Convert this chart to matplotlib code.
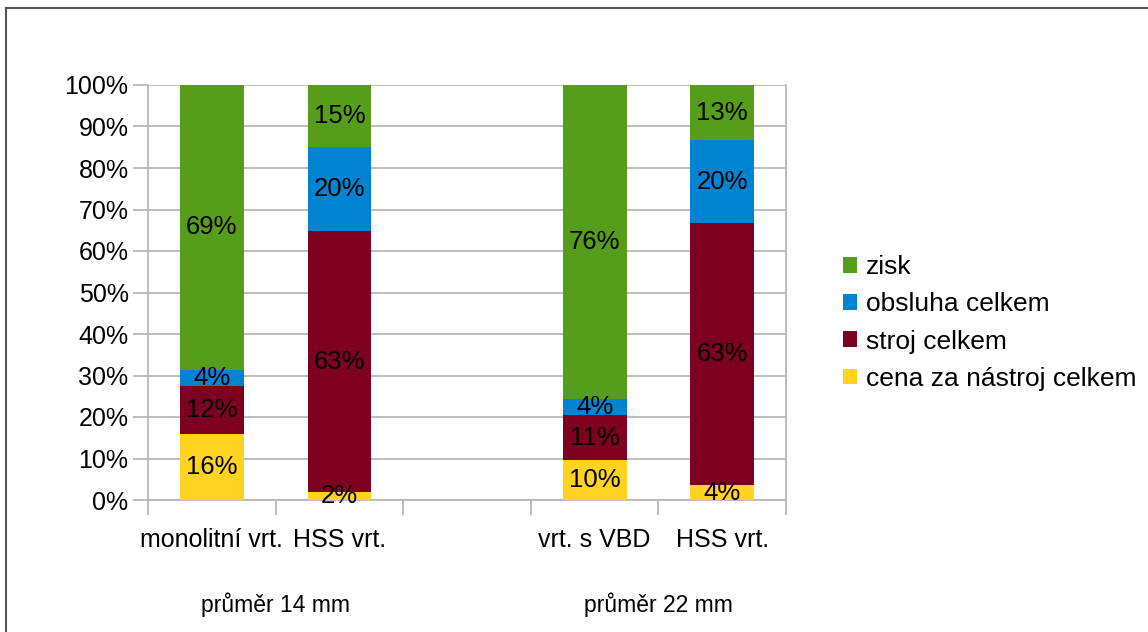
import matplotlib
matplotlib.use("Agg")
import matplotlib.pyplot as plt
import matplotlib.transforms as mtransforms
from matplotlib.lines import Line2D
from matplotlib.patches import Patch
import numpy as np

plt.rcParams["font.family"] = ["Liberation Sans", "DejaVu Sans"]

# cost shares per drill, in percent (empty slot separates the two diameters)
categories = ["monolitní vrt.", "HSS vrt.", "", "vrt. s VBD", "HSS vrt."]
tool_cost = [15.8, 1.9, 0, 9.6, 3.6]
machine_cost = [11.7, 62.9, 0, 10.9, 63.1]
operator_cost = [3.9, 20.3, 0, 3.8, 20.0]
profit = [68.6, 14.9, 0, 75.7, 13.3]

series_names = ["cena za nástroj celkem", "stroj celkem", "obsluha celkem", "zisk"]
series_colors = ["#FFD320", "#7E0021", "#0084D1", "#579D1C"]
group_labels = ["průměr 14 mm", "průměr 22 mm"]

fig = plt.figure(figsize=(11.48, 6.32), dpi=100)
ax = fig.add_axes([148 / 1148, 132 / 632, 638 / 1148, 415 / 632])

x = np.arange(len(categories))
bottom = np.zeros(len(categories))
for vals, name, color in zip([tool_cost, machine_cost, operator_cost, profit],
                             series_names, series_colors):
    vals = np.array(vals, dtype=float)
    ax.bar(x, vals, 0.5, bottom=bottom, color=color, label=name, zorder=3)
    for xi, v, b in zip(x, vals, bottom):
        if v > 0:
            ax.text(xi, b + v / 2, f"{v:.0f}%", ha="center", va="center",
                    fontsize=18.5, color="black", zorder=4)
    bottom += vals

ax.set_xlim(-0.5, len(categories) - 0.5)
ax.set_ylim(0, 100)

grid_color = "#B3B3B3"
ax.set_yticks(np.arange(0, 101, 10))
ax.set_yticklabels([f"{t}%" for t in range(0, 101, 10)], fontsize=18)
ax.yaxis.grid(True, color=grid_color, linewidth=1.2, zorder=0)
ax.tick_params(axis="y", length=11, color=grid_color, width=1.2, pad=3)

ax.set_xticks(np.arange(-0.5, len(categories)), minor=False)
ax.set_xticklabels([])
ax.set_xticks(x, minor=True)
ax.set_xticklabels(categories, minor=True, fontsize=18)
ax.tick_params(axis="x", which="major", length=11, color=grid_color, width=1.2)
ax.tick_params(axis="x", which="minor", length=0, pad=20)

for side in ["left", "right", "top", "bottom"]:
    ax.spines[side].set_color(grid_color)
    ax.spines[side].set_linewidth(1.2)
ax.spines["top"].set_visible(False)

# diameter captions under each pair of drills
trans = mtransforms.blended_transform_factory(ax.transData, fig.transFigure)
for gx, label in zip([0.5, 3.5], group_labels):
    ax.text(gx, 1 - 605 / 632, label, transform=trans, ha="center",
            va="center", fontsize=16.5)

handles = [Patch(facecolor=c, edgecolor="none") for c in series_colors][::-1]
fig.legend(handles, series_names[::-1], loc="center left",
           bbox_to_anchor=(819 / 1148, 1 - 323 / 632), frameon=False,
           fontsize=19, handlelength=0.53, handleheight=0.53,
           handletextpad=0.34, labelspacing=0.5)

# outer chart frame
fig.add_artist(Line2D([6 / 1148, 6 / 1148], [0, 1 - 8 / 632],
                      transform=fig.transFigure, color="#555555", linewidth=1.5))
fig.add_artist(Line2D([6 / 1148, 1], [1 - 8 / 632, 1 - 8 / 632],
                      transform=fig.transFigure, color="#555555", linewidth=1.5))

fig.savefig("out.png", dpi=100, facecolor="white")
